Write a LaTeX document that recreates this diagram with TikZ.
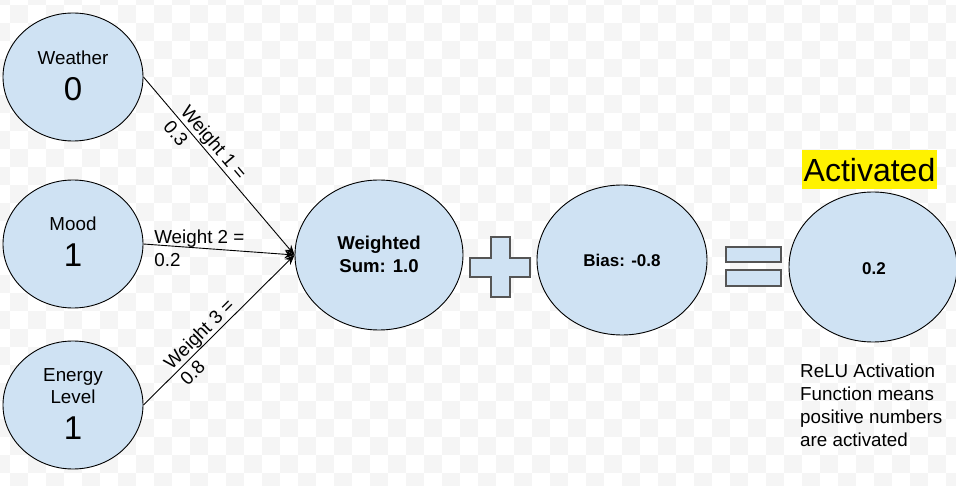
\documentclass[tikz,border=0pt]{standalone}
\usepackage{fontspec}
\setmainfont{Liberation Sans}
\usetikzlibrary{shapes.geometric,arrows.meta}
\definecolor{nodefill}{RGB}{207,226,243}
\definecolor{checker}{RGB}{245,245,245}
\definecolor{opline}{RGB}{85,85,85}
\begin{document}
\begin{tikzpicture}[x=1pt,y=-1pt,
  neuron/.style={ellipse, draw=black, line width=0.9pt, fill=nodefill, inner sep=0pt},
  smallneuron/.style={neuron, minimum width=140pt, minimum height=128pt},
  bigneuron/.style={neuron, minimum width=168pt, minimum height=150pt},
  txt/.style={font=\fontsize{18.8}{23}\selectfont, inner sep=0pt, anchor=base},
  digit/.style={font=\fontsize{33}{36}\selectfont, inner sep=0pt, anchor=base},
  boldtxt/.style={font=\bfseries\fontsize{18.6}{23}\selectfont, inner sep=0pt, anchor=base},
  conn/.style={draw=black, line width=0.9pt, -{Stealth[length=10pt,width=8pt]}},
  wlabel/.style={font=\fontsize{18.8}{23}\selectfont, align=left, inner sep=0pt},
  opshape/.style={draw=opline, line width=1.1pt, fill=nodefill},
  actlabel/.style={fill=yellow, inner xsep=1.5pt, inner ysep=0pt, text height=31.7pt, text depth=7.3pt, font=\fontsize{32}{36}\selectfont},
  note/.style={font=\fontsize{18.8}{23}\selectfont, align=left, inner sep=0pt, anchor=north west}]
\useasboundingbox (0,0) rectangle (956,486);
% transparent-style checkerboard background
\fill[white] (0,0) rectangle (956,486);
\begin{scope}
  \clip (0,0) rectangle (956,486);
  \foreach \i in {-1,...,53} {
    \foreach \j in {-1,...,27} {
      \pgfmathtruncatemacro{\cpar}{mod(\i+\j+100,2)}
      \ifnum\cpar=0 \fill[checker] (10+18*\i,4.7+18*\j) rectangle ++(18,18); \fi
    }
  }
\end{scope}
% input neurons
\node[smallneuron] (weather) at (73,77) {};
\node[smallneuron] (mood) at (73,244) {};
\node[smallneuron] (energy) at (73,405) {};
\node[txt] (weathert) at (73,65) {Weather};
\node[digit] (weatherv) at (73,100.7) {0};
\node[txt] (moodt) at (73,231) {Mood};
\node[digit] (moodv) at (73,266.7) {1};
\node[txt] (energyt) at (73,381.7) {Energy};
\node[txt] (energyt2) at (73,403.3) {Level};
\node[digit] (energyv) at (73,439.3) {1};
% sum, bias, activated
\node[bigneuron] (wsum) at (379,255) {};
\node[boldtxt] (wsumt) at (379,249.3) {Weighted};
\node[boldtxt] (wsumt2) at (379,272.3) {Sum: 1.0};
\node[bigneuron, minimum width=170pt] (bias) at (622,260) {};
\node[boldtxt, font=\bfseries\fontsize{17}{21}\selectfont] (biast) at (622,266.7) {Bias: -0.8};
\node[bigneuron] (act) at (873,267) {};
\node[boldtxt, font=\bfseries\fontsize{17}{21}\selectfont] (actt) at (874,275) {0.2};
% plus sign
\draw[opshape] (491,237) -- (510,237) -- (510,258) -- (530,258) -- (530,277) -- (510,277)
  -- (510,297) -- (491,297) -- (491,277) -- (470,277) -- (470,258) -- (491,258) -- cycle;
% equals sign
\draw[opshape] (726,247) rectangle (781,262);
\draw[opshape] (726,270) rectangle (781,286);
% labels
\node[actlabel, anchor=base] (actlbl) at (869.5,181.7) {Activated};
\node[note] (relu) at (800,363.5) {ReLU Activation\\Function means\\positive numbers\\are activated};
% connectors
\draw[conn] (weather.east) -- (wsum.west) node[wlabel, sloped, pos=0.41] (w1) {Weight 1 =\\0.3};
\draw[conn] (mood.east) -- (wsum.west) node[wlabel, pos=0.37] (w2) {Weight 2 =\\0.2};
\draw[conn] (energy.east) -- (wsum.west) node[wlabel, sloped, pos=0.42] (w3) {Weight 3 =\\0.8};
\end{tikzpicture}
\end{document}
